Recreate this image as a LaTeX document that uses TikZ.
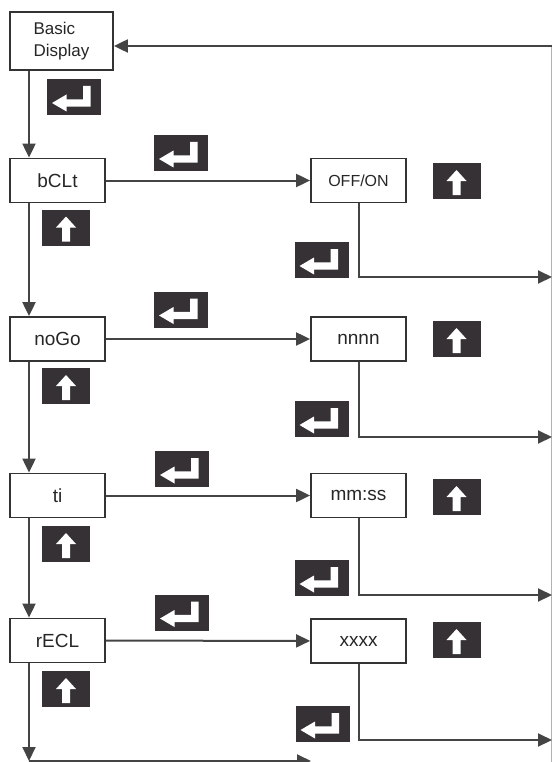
\documentclass[tikz,border=0pt]{standalone}
\usepackage{fontspec}
\setmainfont{Liberation Sans}
\usetikzlibrary{arrows.meta}
\definecolor{keyfill}{HTML}{363134}
\definecolor{rim}{HTML}{333333}
\definecolor{wire}{HTML}{444444}
\tikzset{
  menu/.style={draw=rim,line width=1.8pt,minimum width=95pt,minimum height=44pt,inner sep=0pt,text=black!85,font=\fontsize{19}{19}\selectfont},
  enterkey/.style={fill=keyfill,minimum width=54pt,minimum height=36pt,inner sep=0pt},
  upkey/.style={fill=keyfill,minimum width=48pt,minimum height=36pt,inner sep=0pt},
  flow/.style={draw=wire,line width=2pt,-{Triangle[length=14pt,width=13pt]}}
}
\def\entersign#1{\fill[white,shift={(#1.center)}] (-22,6) -- (-7.5,-2.5) -- (-7.5,2.3) -- (9,2.3) -- (9,-11) -- (16.5,-11) -- (16.5,9.7) -- (-7.5,9.7) -- (-7.5,14.5) -- cycle;}
\def\upsign#1{\fill[white,shift={(#1.center)}] (0,-11) -- (10,0) -- (4,0) -- (4,14) -- (-4,14) -- (-4,0) -- (-10,0) -- cycle;}

\begin{document}
\begin{tikzpicture}[x=1pt,y=-1pt]
\useasboundingbox (0,0) rectangle (552,762);
%\draw[help lines,step=50] (0,0) grid (552,762);

\coordinate (spine) at (29,0);
\coordinate (ret) at (552,46);
\draw[black!30,line width=0.6pt] (551.5,46) -- (551.5,762);
\node[draw=rim,line width=1.8pt,minimum width=103pt,minimum height=58pt,align=left,text=black!85,font=\fontsize{17}{22}\selectfont] (basic) at (61.5,41) {Basic\\Display};
\draw[flow] (ret) -- (basic.east |- ret);
\node[enterkey] (e0) at (74,97) {}; \entersign{e0}

% row 1
\node[menu] (bclt) at (57.5,180.5) {bCLt};
\node[menu,font=\fontsize{16}{16}\selectfont] (offon) at (358.5,180.5) {OFF/ON};
\node[enterkey] (e1) at (181,153) {}; \entersign{e1}
\node[upkey] (u1) at (66,227.5) {}; \upsign{u1}
\node[upkey] (u1r) at (456.5,181) {}; \upsign{u1r}
\node[enterkey] (e1r) at (321.5,260) {}; \entersign{e1r}
\coordinate (out1) at (552,277);
\draw[flow] (basic.south -| spine) -- (bclt.north -| spine);
\draw[flow] (bclt) -- (offon);
\draw[flow] (offon.south) |- (out1);

% row 2
\node[menu] (nogo) at (57.5,339) {noGo};
\node[menu] (nnnn) at (358.5,339) {nnnn};
\node[enterkey] (e2) at (181,309.5) {}; \entersign{e2}
\node[upkey] (u2) at (66,386) {}; \upsign{u2}
\node[upkey] (u2r) at (456.5,339) {}; \upsign{u2r}
\node[enterkey] (e2r) at (321.5,419) {}; \entersign{e2r}
\coordinate (out2) at (552,437);
\draw[flow] (bclt.south -| spine) -- (nogo.north -| spine);
\draw[flow] (nogo) -- (nnnn);
\draw[flow] (nnnn.south) |- (out2);

% row 3
\node[menu] (ti) at (57.5,495.5) {ti};
\node[menu] (mmss) at (358.5,495.5) {mm:ss};
\node[enterkey] (e3) at (182,469) {}; \entersign{e3}
\node[upkey] (u3) at (66,544) {}; \upsign{u3}
\node[upkey] (u3r) at (456.5,497) {}; \upsign{u3r}
\node[enterkey] (e3r) at (321.5,578) {}; \entersign{e3r}
\coordinate (out3) at (552,595);
\draw[flow] (nogo.south -| spine) -- (ti.north -| spine);
\draw[flow] (ti) -- (mmss);
\draw[flow] (mmss.south) |- (out3);

% row 4
\node[menu] (recl) at (57.5,640.5) {rECL};
\node[menu] (xxxx) at (358.5,641) {xxxx};
\node[enterkey] (e4) at (182,612.5) {}; \entersign{e4}
\node[upkey] (u4) at (66,689) {}; \upsign{u4}
\node[upkey] (u4r) at (456.5,640) {}; \upsign{u4r}
\node[enterkey] (e4r) at (322.5,724) {}; \entersign{e4r}
\coordinate (out4) at (552,740);
\draw[flow] (ti.south -| spine) -- (recl.north -| spine);
\draw[flow] (recl) -- (xxxx);
\draw[flow] (xxxx.south) |- (out4);

\coordinate (low) at (29,761);
\coordinate (lowend) at (311,761);
\draw[flow] (recl.south -| spine) -- (low);
\draw[flow] (low) -- (lowend);
\end{tikzpicture}
\end{document}
